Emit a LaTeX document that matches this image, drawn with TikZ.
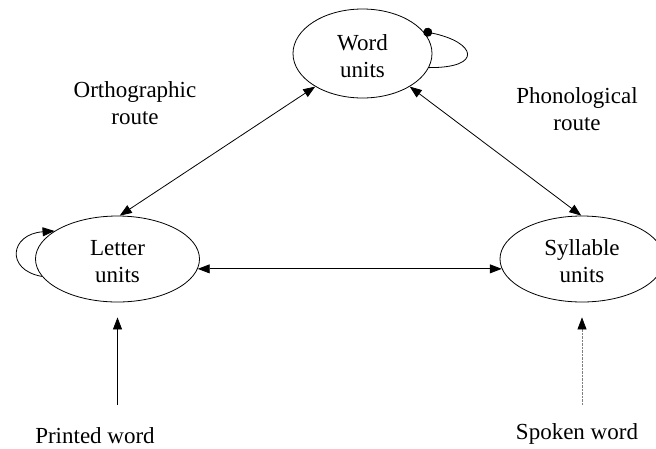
\documentclass[tikz,border=0pt]{standalone}
\usepackage{fontspec}
\setmainfont{Liberation Serif}
\usetikzlibrary{arrows.meta,shapes.geometric}
\newcommand\utext[1]{\raisebox{-5pt}[\height][\depth]{\begin{tabular}{@{}c@{}}#1\end{tabular}}}
\begin{document}
\begin{tikzpicture}[x=1pt,y=-1pt,
  unit/.style={draw,ellipse,line width=0.8pt,inner sep=0pt,font=\fontsize{23}{27}\selectfont},
  lbl/.style={align=center,inner sep=0pt,font=\fontsize{23}{27}\selectfont},
  conn/.style={line width=0.8pt},
  both/.style={conn,{Triangle[length=12pt,width=9pt]}-{Triangle[length=12pt,width=9pt]}},
  single/.style={conn,-{Triangle[length=12pt,width=9pt]}}]
\useasboundingbox (0,0) rectangle (656,448);
\node[unit,minimum width=139pt,minimum height=89pt] (w) at (362.5,53.5) {\utext{Word\\units}};
\node[unit,minimum width=164pt,minimum height=86pt] (l) at (117.5,259) {\utext{Letter\\units}};
\node[unit,minimum width=164pt,minimum height=86pt] (s) at (582,259) {\utext{Syllable\\units}};
\node[lbl] (o) at (135,103) {Orthographic\\route};
\node[lbl] (ph) at (577,109) {Phonological\\route};
\node[lbl,anchor=base] (pw) at (95,443) {Printed word};
\node[lbl,anchor=base] (sw) at (577,439) {Spoken word};
\coordinate (pa) at (117.5,405);
\coordinate (sa) at (582,405);
\draw[both] (l.87) -- (w.215);
\draw[both] (w.-35) -- (s.91);
\draw[both] (l.-7) -- (s.187);
\draw[single,shorten >=15pt] (pa) -- (l.south);
\draw[line width=0.7pt,gray,dash pattern=on 0.8pt off 0.6pt,-{Triangle[length=12pt,width=9pt,black,fill=black]},shorten >=15pt] (sa) -- (s.south);
\draw[conn,-{Circle[length=9pt]}] (w.-12) .. controls (484,68) and (476,42) .. (w.20);
\draw[single] (l.193) .. controls (5,270) and (10,234) .. (l.156);
\end{tikzpicture}
\end{document}
